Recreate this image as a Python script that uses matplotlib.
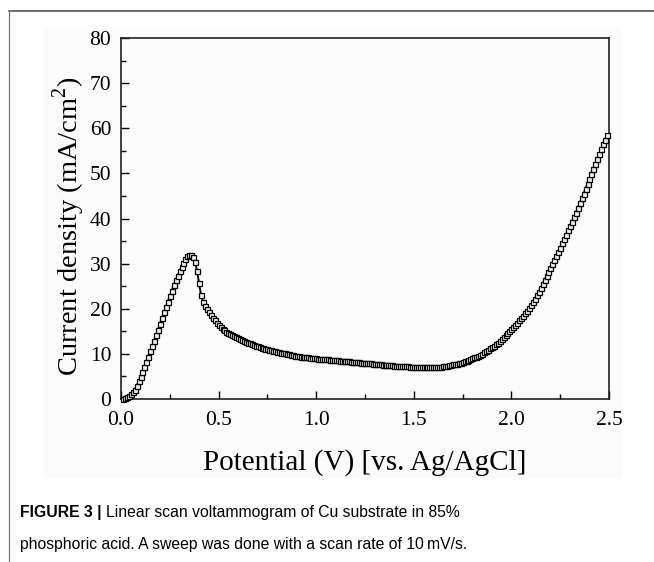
import numpy as np
import matplotlib
matplotlib.use("Agg")
import matplotlib.pyplot as plt
from matplotlib.patches import Rectangle
from matplotlib.lines import Line2D

# Potential grid (V vs Ag/AgCl), 10 mV sampling from 0.01 to 2.49 V
potential = np.round(np.arange(0.01, 2.4951, 0.01), 2)

# Current density (mA/cm2), segment by segment
current_rise = [0.1, 0.2, 0.4, 0.7, 1.1, 1.5, 2.0, 2.9, 3.9, 4.9,
                6.0, 7.1, 8.3, 9.4, 10.6, 11.7, 12.9, 14.1, 15.4, 16.7,
                18.0, 19.2, 20.4, 21.6, 22.8, 24.0, 25.2, 26.3, 27.3, 28.3,
                29.3, 30.2, 31.0, 31.7]                       # 0.01 - 0.34
current_peak = [32.0, 31.9, 31.4, 30.4, 28.3, 25.6, 23.1, 21.6, 20.6, 19.9,
                19.2, 18.6, 18.0, 17.4, 16.9, 16.4]           # 0.35 - 0.50
current_decay = [16.0, 15.6, 15.2, 14.9, 14.6, 14.3, 14.1, 13.9, 13.7, 13.5,
                 13.3, 13.1, 12.9, 12.7, 12.5, 12.3, 12.15, 12.0, 11.85, 11.7,
                 11.55, 11.4, 11.25, 11.1, 11.0, 10.9, 10.8, 10.7, 10.6, 10.5,
                 10.4, 10.3, 10.2, 10.1, 10.0, 9.9, 9.8, 9.7, 9.6, 9.55,
                 9.5, 9.4, 9.35, 9.3, 9.25, 9.2, 9.15, 9.1, 9.05, 9.0]  # 0.51 - 1.00
current_plateau = [8.96, 8.92, 8.88, 8.84, 8.8, 8.76, 8.72, 8.68, 8.64, 8.6,
                   8.56, 8.52, 8.48, 8.44, 8.4, 8.36, 8.32, 8.28, 8.24, 8.2,
                   8.16, 8.12, 8.08, 8.04, 8.0, 7.96, 7.92, 7.88, 7.84, 7.8,
                   7.76, 7.72, 7.68, 7.64, 7.6, 7.56, 7.52, 7.48, 7.45, 7.42,
                   7.39, 7.36, 7.33, 7.3, 7.27, 7.24, 7.21, 7.18, 7.15, 7.12,
                   7.1, 7.08, 7.06, 7.04, 7.02, 7.0, 7.0, 7.0, 7.0, 7.02,
                   7.05, 7.09, 7.14, 7.2]                     # 1.01 - 1.64
current_onset = [7.26, 7.33, 7.40, 7.48, 7.56, 7.65, 7.74, 7.84, 7.95, 8.07,
                 8.2, 8.34, 8.49, 8.65, 8.82, 9.0, 9.2, 9.4, 9.6, 9.82,
                 10.06, 10.32, 10.6, 10.9, 11.22, 11.5, 11.8, 12.15, 12.5, 12.85,
                 13.25, 13.65, 14.1, 14.55, 15.0, 15.45, 15.9, 16.4, 16.9, 17.4,
                 17.9, 18.45, 19.0, 19.55, 20.15]             # 1.65 - 2.09
current_oxygen = [20.75, 21.45, 22.2, 23.0, 23.8, 24.65, 25.5, 26.35, 27.2, 28.1,
                  29.0, 29.9, 30.8, 31.7, 32.6, 33.55, 34.5, 35.45, 36.4, 37.35,
                  38.3, 39.3, 40.3, 41.3, 42.35, 43.4, 44.45, 45.5, 46.55, 47.6,
                  48.7, 49.8, 50.9, 52.0, 53.1, 54.2, 55.3, 56.4, 57.5, 58.6]  # 2.10 - 2.49

current = np.array(current_rise + current_peak + current_decay +
                   current_plateau + current_onset + current_oxygen)

xticks = [0.0, 0.5, 1.0, 1.5, 2.0, 2.5]
xtick_labels = ["0.0", "0.5", "1.0", "1.5", "2.0", "2.5"]
yticks = [0, 10, 20, 30, 40, 50, 60, 70, 80]

W, H = 654, 562
fig = plt.figure(figsize=(W / 100, H / 100), dpi=100)
fig.patch.set_facecolor("white")

# faint panel behind the chart image
fig.add_artist(Rectangle((44 / W, 1 - 478 / H), (621 - 44) / W, (478 - 27) / H,
                         transform=fig.transFigure, facecolor="#fbfbfb",
                         edgecolor="none", zorder=-10))
# page frame lines (top and left)
fig.add_artist(Line2D([8.5 / W, 1.0], [1 - 10.5 / H, 1 - 10.5 / H],
                      transform=fig.transFigure, color="#555555", lw=1.2))
fig.add_artist(Line2D([8.5 / W, 8.5 / W], [0, 1 - 10.5 / H],
                      transform=fig.transFigure, color="#777777", lw=0.9))

ax = fig.add_axes([121 / W, 1 - 399 / H, (609 - 121) / W, (399 - 38) / H])
ax.set_zorder(5)
ax.set_facecolor("none")

serif = "Liberation Serif"
ax.plot(potential, current, color="black", lw=1.4, zorder=2)
ax.plot(potential, current, linestyle="none", marker="s", markersize=3.6,
        markerfacecolor="#eeeeee", markeredgecolor="black", markeredgewidth=0.9,
        zorder=3, clip_on=False)

ax.set_xlim(0, 2.5)
ax.set_ylim(0, 80)
ax.set_xticks(xticks)
ax.set_xticklabels(xtick_labels)
ax.set_yticks(yticks)
ax.set_xticks([0.25, 0.75, 1.25, 1.75, 2.25], minor=True)
ax.set_yticks([5, 15, 25, 35, 45, 55, 65, 75], minor=True)
ax.tick_params(which="both", direction="in", top=False, right=False,
               width=1.0, colors="black")
ax.tick_params(which="major", length=6, labelsize=15.5)
ax.tick_params(axis="x", which="major", pad=8.5)
ax.tick_params(axis="y", which="major", pad=7)
ax.tick_params(which="minor", length=3.5)
for lbl in ax.get_xticklabels() + ax.get_yticklabels():
    lbl.set_fontfamily(serif)
for s in ax.spines.values():
    s.set_linewidth(1.2)
    s.set_color("#222222")

ax.set_xlabel("Potential (V) [vs. Ag/AgCl]", fontfamily=serif, fontsize=21,
              labelpad=14)
ax.set_ylabel("Current density (mA/cm$^\\mathregular{2}$)", fontfamily=serif,
              fontsize=20.5, labelpad=6)
ax.yaxis.set_label_coords(-0.069, 0.478)

# caption
cap_fam = ["Liberation Sans", "DejaVu Sans"]
cap_size = 11.3
t1 = fig.text(20 / W, 1 - 513 / H, "FIGURE 3 |", fontfamily=cap_fam,
              fontweight="bold", fontsize=cap_size, va="center", ha="left")
fig.canvas.draw()
bb = t1.get_window_extent()
fig.text((bb.x1 + 4) / W, 1 - 513 / H,
         "Linear scan voltammogram of Cu substrate in 85%",
         fontfamily=cap_fam, fontsize=cap_size, va="center", ha="left")
fig.text(20 / W, 1 - 544 / H,
         "phosphoric acid. A sweep was done with a scan rate of 10\u2009mV/s.",
         fontfamily=cap_fam, fontsize=cap_size, va="center", ha="left")

fig.savefig("out.png", dpi=100, facecolor="white")
